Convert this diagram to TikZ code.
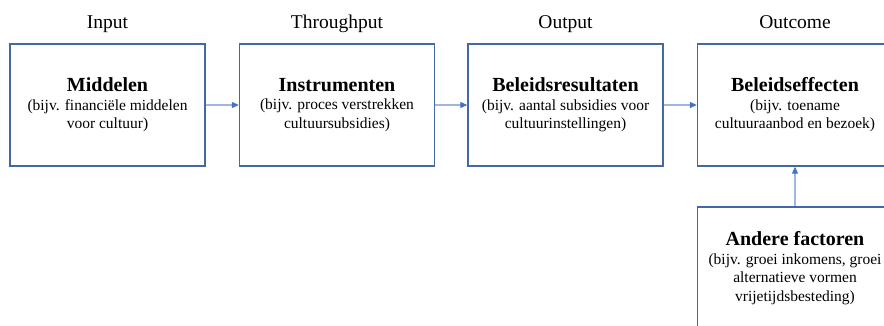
\documentclass[tikz,border=0pt]{standalone}
\usepackage{fontspec}
\setmainfont{Liberation Serif}
\usetikzlibrary{arrows.meta,positioning}
\definecolor{boxblue}{RGB}{68,103,170}
\definecolor{lineblue}{RGB}{160,182,225}
\definecolor{tipblue}{RGB}{68,114,196}
\newcommand{\boxtitle}[1]{{\fontsize{20}{19}\selectfont\bfseries #1}}
\begin{document}
\begin{tikzpicture}[x=1pt,y=-1pt,
		box/.style={draw=boxblue, line width=1.4pt, minimum width=195pt, minimum height=122pt,
			inner sep=0pt, align=center, font=\fontsize{15.5}{18.5}\selectfont},
		flow/.style={lineblue, line width=1.2pt, -{Triangle[length=7pt,width=6pt,color=tipblue]}},
		phase/.style={font=\fontsize{19.5}{22}\selectfont, anchor=base, inner sep=0pt}]
	\useasboundingbox (0,0) rectangle (884,325);
	\clip (0,0) rectangle (884,325);
	% fases
	\node[phase] (input) at (107.5,28) {Input};
	\node[phase] (through) at (337,28) {Throughput};
	\node[phase] (output) at (565.5,28) {Output};
	\node[phase] (outcome) at (795,28) {Outcome};
	% blokken
	\node[box] (middelen) at (107.5,105) {\boxtitle{Middelen}\\(bijv. financiële middelen\\voor cultuur)};
	\node[box] (instrumenten) at (337,105) {\boxtitle{Instrumenten}\\(bijv. proces verstrekken\\cultuursubsidies)};
	\node[box] (resultaten) at (565.5,105) {\boxtitle{Beleidsresultaten}\\(bijv. aantal subsidies voor\\cultuurinstellingen)};
	\node[box] (effecten) at (795,105) {\boxtitle{Beleidseffecten}\\(bijv. toename\\cultuuraanbod en bezoek)};
	\node[box] (factoren) at (795,268) {\boxtitle{Andere factoren}\\(bijv. groei inkomens, groei\\alternatieve vormen\\vrijetijdsbesteding)};
	% pijlen
	\draw[flow] (middelen) -- (instrumenten);
	\draw[flow] (instrumenten) -- (resultaten);
	\draw[flow] (resultaten) -- (effecten);
	\draw[flow] (factoren) -- (effecten);
\end{tikzpicture}
\end{document}
